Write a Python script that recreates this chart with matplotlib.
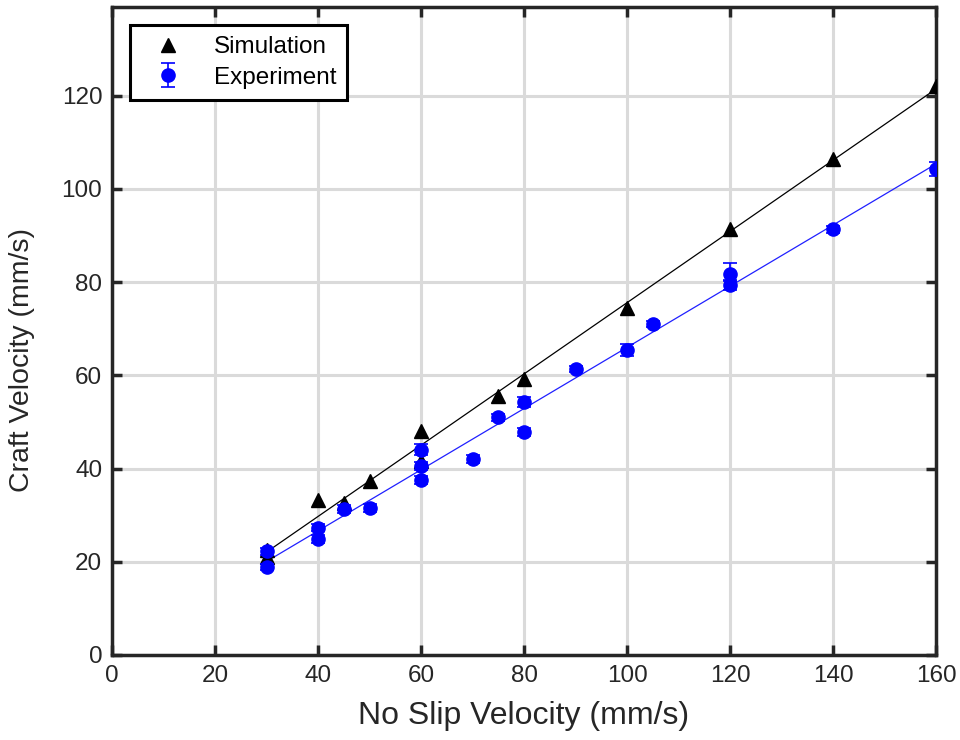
import matplotlib.pyplot as plt
import numpy as np

plt.rcParams['font.family'] = ['Liberation Sans', 'DejaVu Sans']

# simulation points
sim_x = [30, 30, 40, 45, 50, 60, 60, 75, 80, 100, 120, 140, 160]
sim_y = [22.5, 21.0, 33.3, 32.5, 37.3, 48.0, 41.7, 55.6, 59.3, 74.5, 91.3, 106.5, 122.0]

# experiment points with error
exp_x = [30, 30, 40, 40, 45, 50, 60, 60, 60, 70, 75, 80, 80, 90, 100, 105, 120, 120, 140, 160]
exp_y = [22.2, 18.9, 27.3, 24.9, 31.3, 31.5, 44.0, 40.5, 37.6, 42.0, 51.0, 54.3, 47.8, 61.3,
         65.4, 71.0, 81.8, 79.3, 91.3, 104.3]
exp_lo = [0.8, 0.7, 0.8, 0.8, 0.8, 0.8, 1.2, 0.8, 0.9, 0.9, 0.8, 1.0, 0.8, 0.7,
          1.3, 0.7, 1.3, 1.0, 0.8, 1.5]
exp_hi = [0.8, 0.7, 0.8, 0.8, 0.8, 0.8, 1.2, 0.8, 0.9, 0.9, 0.8, 1.0, 0.8, 0.7,
          1.3, 0.7, 2.2, 1.0, 0.8, 1.5]

fit_x = [30, 160]

dark = '#262626'

fig = plt.figure(figsize=(9.6, 7.4), dpi=100)
ax = fig.add_axes([0.1167, 0.1149, 0.8583, 0.8756])

# linear fits
ps = np.polyfit(sim_x, sim_y, 1)
pe = np.polyfit(exp_x, exp_y, 1)
ax.plot(fit_x, np.polyval(ps, fit_x), color='black', lw=0.9, zorder=2)
ax.plot(fit_x, np.polyval(pe, fit_x), color='#2020ff', lw=0.9, zorder=2)

ax.plot(sim_x, sim_y, '^', color='black', ms=10.5, zorder=3, label='Simulation')
ax.errorbar(exp_x, exp_y, yerr=[exp_lo, exp_hi], fmt='o', color='#0000ff', ms=9.5,
            ecolor='#0000ff', elinewidth=1.2, capsize=5, capthick=1.2, zorder=4,
            label='Experiment')

ax.set_xlim(0, 160)
ax.set_ylim(0, 139)
ax.set_xticks(np.arange(0, 161, 20))
ax.set_yticks(np.arange(0, 121, 20))
ax.grid(True, color='#dadada', lw=2.2)
ax.set_axisbelow(True)
for s in ax.spines.values():
    s.set_linewidth(2.5)
    s.set_color(dark)
ax.tick_params(direction='in', length=7, width=2.5, top=True, right=True,
               labelsize=17.5, pad=7, color=dark, labelcolor=dark)

ax.set_xlabel('No Slip Velocity (mm/s)', fontsize=23, labelpad=10, color=dark)
ax.set_ylabel('Craft Velocity (mm/s)', fontsize=20.5, color=dark)
ax.yaxis.set_label_coords(-0.094, 0.455)

leg = ax.legend(loc='upper left', fontsize=17.5, fancybox=False, framealpha=1,
                edgecolor='black', borderpad=0.45, handletextpad=0.8,
                handlelength=2.2, labelspacing=0.35, borderaxespad=0,
                bbox_to_anchor=(0.022, 0.972))
leg.get_frame().set_linewidth(2.2)
for t in leg.get_texts():
    t.set_color('black')

fig.savefig('out.png', dpi=100)
